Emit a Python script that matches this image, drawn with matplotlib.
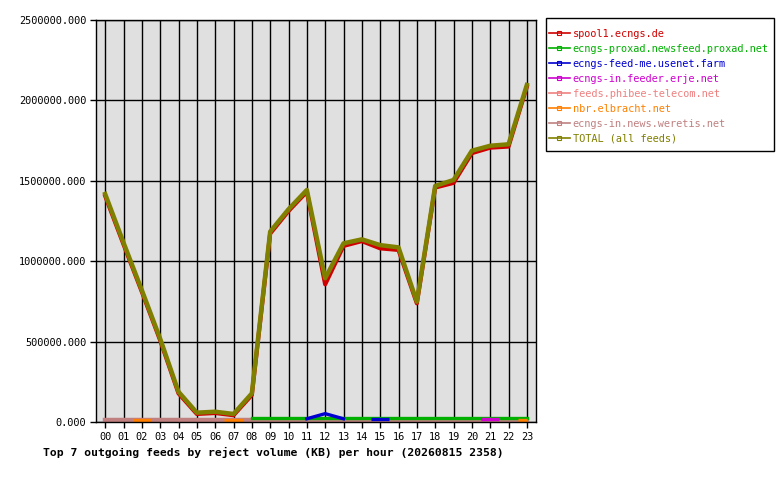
import numpy as np
import matplotlib
matplotlib.use("Agg")
import matplotlib.pyplot as plt
from matplotlib.lines import Line2D
from matplotlib.patches import Rectangle

hours = list(range(24))
hour_labels = [f"{h:02d}" for h in hours]
nan = np.nan

total = [1418000, 1116000, 820000, 518000, 188000, 58000, 64000, 50000, 178000,
         1184000, 1323000, 1443000, 894000, 1111000, 1136000, 1100000, 1086000,
         748000, 1468000, 1505000, 1687000, 1718000, 1727000, 2096000]
spool1 = [1406000, 1105000, 810000, 508000, 178000, 50000, 56000, 42000, 168000,
          1172000, 1312000, 1432000, 856000, 1095000, 1125000, 1080000, 1070000,
          738000, 1458000, 1487000, 1672000, 1706000, 1713000, 2085000]
proxad = [nan] * 8 + [22000] * 16
usenet_farm = [nan] * 11 + [20000, 52000, 20000] + [nan] * 10
usenet_farm_blocks = {15: 21000}
erje_blocks = {21: 21000}
phibee = [0] * 24
elbracht_blocks = {2: 12000, 7: 12000, 23: 12000}
weretis = [10000] * 24

names = ["spool1.ecngs.de", "ecngs-proxad.newsfeed.proxad.net",
         "ecngs-feed-me.usenet.farm", "ecngs-in.feeder.erje.net",
         "feeds.phibee-telecom.net", "nbr.elbracht.net",
         "ecngs-in.news.weretis.net", "TOTAL (all feeds)"]
colors = ["#d00000", "#00b000", "#0000d0", "#d000d0", "#f08080",
          "#ff8000", "#c08080", "#808000"]

plt.rcParams['font.family'] = ['DejaVu Sans Mono']

fig = plt.figure(figsize=(7.8, 4.8), dpi=100)
ax = fig.add_axes([96/780, 1-422/480, 440/780, 402/480])
ax.set_facecolor("#e0e0e0")

x = np.array(hours)
lw_small = 2.4

def blocks(d, color, z):
    hs = np.array(list(d.keys()))
    vs = np.array(list(d.values()))
    ax.hlines(vs, hs - 0.5, np.minimum(hs + 0.5, 23), colors=color,
              linewidth=lw_small, zorder=z)

ax.plot(x, phibee, color=colors[4], linewidth=lw_small, zorder=2)
ax.plot(x, weretis, color=colors[6], linewidth=3.2, zorder=2.1)
ax.plot(x, proxad, color=colors[1], linewidth=lw_small, zorder=2.2)
ax.plot(x, usenet_farm, color=colors[2], linewidth=lw_small, zorder=2.3)
blocks(usenet_farm_blocks, colors[2], 2.3)
blocks(erje_blocks, colors[3], 2.4)
blocks(elbracht_blocks, colors[5], 2.5)
ax.plot(x, spool1, color=colors[0], linewidth=3.0, zorder=2.6)
ax.plot(x, total, color=colors[7], linewidth=3.2, zorder=2.7)

ax.set_xlim(-0.5, 23.5)
ax.set_ylim(0, 2500000)
ax.set_xticks(hours)
ax.set_xticklabels(hour_labels)
yt = np.arange(0, 2500001, 500000)
ax.set_yticks(yt)
ax.set_yticklabels([f"{v:.3f}" for v in yt])
ax.grid(True, color="black", linewidth=1.0)
ax.set_axisbelow(True)
ax.tick_params(axis='both', labelsize=7.4, length=4, width=1, color='black', pad=3)
for s in ax.spines.values():
    s.set_color("black")
    s.set_linewidth(1.0)
    s.set_zorder(3)

# legend frame
fig.patches.append(Rectangle((546/780, 1-151/480), 228/780, 133/480,
                             transform=fig.transFigure, fill=False,
                             edgecolor='black', linewidth=1.0))

handles = [Line2D([0], [0], color=c, linewidth=1.2, marker='s', markersize=2.5,
                  markerfacecolor='none', markeredgewidth=0.8) for c in colors]
leg = fig.legend(handles, names, loc='upper left',
                 bbox_to_anchor=(549/780, 1-29/480), frameon=False,
                 fontsize=7.4, handlelength=2.0, handletextpad=0.3,
                 labelspacing=0.48, borderpad=0, borderaxespad=0)
for t, c in zip(leg.get_texts(), colors):
    t.set_color(c)

fig.text(43/780, 1-452/480,
         "Top 7 outgoing feeds by reject volume (KB) per hour (20260815 2358)",
         fontsize=8.2, fontweight='bold', va='center', ha='left')

fig.savefig("out.png", dpi=100, facecolor='white')
